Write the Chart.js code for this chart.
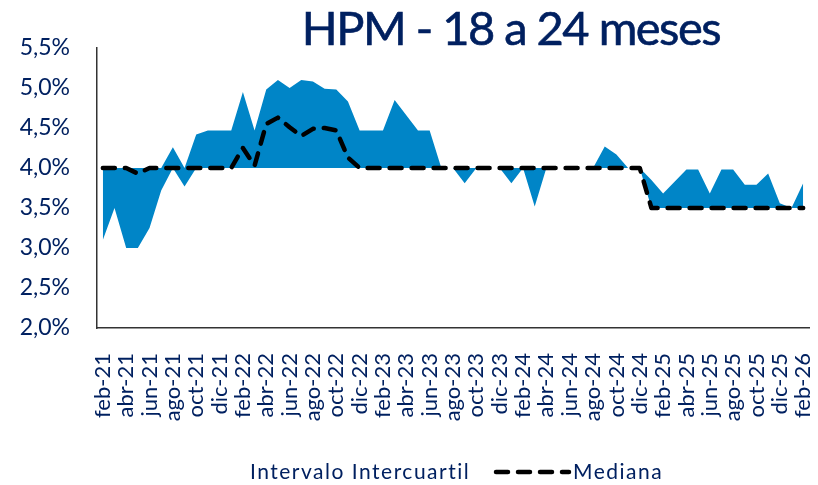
<!DOCTYPE html>
<html lang="es">
<head>
<meta charset="utf-8">
<title>HPM - 18 a 24 meses</title>
<script src="https://cdn.jsdelivr.net/npm/chart.js@4/dist/chart.umd.min.js"></script>
<style>
  html, body { margin: 0; padding: 0; background: #fff; }
  #wrap { position: relative; width: 818px; height: 485px; font-family: Lato, sans-serif; color: #002060; }
  #grafico { position: absolute; left: 0; top: 0; }
  #titulo { position: absolute; left: 211px; width: 600px; top: 4px; text-align: center;
            font-size: 47px; line-height: 47px; letter-spacing: -1.5px; white-space: nowrap;
            -webkit-text-stroke: 0.6px #002060; }
  .ley { position: absolute; top: 461px; font-size: 21px; line-height: 20px; letter-spacing: 1.5px; white-space: nowrap; }
  #leyLinea { position: absolute; left: 489px; top: 462px; }
</style>
</head>
<body>
<div id="wrap">
  <canvas id="grafico" width="818" height="485"></canvas>
  <div id="titulo">HPM - 18 a 24 meses</div>
  <div class="ley" style="left:250px">Intervalo Intercuartil</div>
  <svg id="leyLinea" width="84" height="20">
    <line x1="7" y1="10" x2="80" y2="10" stroke="#000" stroke-width="4.5" stroke-linecap="round" stroke-dasharray="12 10"></line>
  </svg>
  <div class="ley" style="left:573px">Mediana</div>
</div>
<script>
// meses de la encuesta
const meses = [
  'feb-21','mar-21','abr-21','may-21','jun-21','jul-21','ago-21','sep-21','oct-21','nov-21','dic-21',
  'ene-22','feb-22','mar-22','abr-22','may-22','jun-22','jul-22','ago-22','sep-22','oct-22','nov-22','dic-22',
  'ene-23','feb-23','mar-23','abr-23','may-23','jun-23','jul-23','ago-23','sep-23','oct-23','nov-23','dic-23',
  'ene-24','feb-24','mar-24','abr-24','may-24','jun-24','jul-24','ago-24','sep-24','oct-24','nov-24','dic-24',
  'ene-25','feb-25','mar-25','abr-25','may-25','jun-25','jul-25','ago-25','sep-25','oct-25','nov-25','dic-25',
  'ene-26','feb-26'
]

// percentil 25
const q1 = [
  3.10, 3.50, 3.00, 3.00, 3.25, 3.72, 4.00, 3.77, 4.00, 4.00, 4.00,
  4.00, 4.00, 4.00, 4.00, 4.00, 4.00, 4.00, 4.00, 4.00, 4.00, 4.00, 4.00,
  4.00, 4.00, 4.00, 4.00, 4.00, 4.00, 4.00, 4.00, 3.81, 4.00, 4.00, 4.00,
  3.81, 4.00, 3.52, 4.00, 4.00, 4.00, 4.00, 4.00, 4.00, 4.00, 4.00, 4.00,
  3.50, 3.50, 3.50, 3.50, 3.50, 3.50, 3.50, 3.50, 3.50, 3.50, 3.50, 3.50,
  3.50, 3.50
]

// percentil 75
const q3 = [
  4.00, 4.00, 4.00, 4.00, 4.00, 4.00, 4.26, 4.00, 4.42, 4.47, 4.47,
  4.47, 4.95, 4.47, 4.98, 5.10, 5.00, 5.10, 5.08, 4.99, 4.98, 4.83, 4.47,
  4.47, 4.47, 4.85, 4.66, 4.47, 4.47, 4.00, 4.00, 4.00, 4.00, 4.00, 4.00,
  4.00, 4.00, 4.00, 4.00, 4.00, 4.00, 4.00, 4.00, 4.27, 4.17, 4.00, 4.00,
  3.85, 3.68, 3.83, 3.98, 3.98, 3.68, 3.98, 3.98, 3.79, 3.79, 3.93, 3.56,
  3.50, 3.81
]

const mediana = [
  4.00, 4.00, 4.00, 3.93, 4.00, 4.00, 4.00, 4.00, 4.00, 4.00, 4.00,
  4.00, 4.25, 4.03, 4.55, 4.63, 4.51, 4.40, 4.49, 4.50, 4.47, 4.13, 4.00,
  4.00, 4.00, 4.00, 4.00, 4.00, 4.00, 4.00, 4.00, 4.00, 4.00, 4.00, 4.00,
  4.00, 4.00, 4.00, 4.00, 4.00, 4.00, 4.00, 4.00, 4.00, 4.00, 4.00, 4.00,
  3.50, 3.50, 3.50, 3.50, 3.50, 3.50, 3.50, 3.50, 3.50, 3.50, 3.50, 3.50,
  3.50, 3.50
]

const ticksY = [2.0, 2.5, 3.0, 3.5, 4.0, 4.5, 5.0, 5.5]

const azul = '#0085C7'
const navy = '#002060'

new Chart(document.getElementById('grafico'), {
  type: 'line',
  data: {
    labels: meses,
    datasets: [
      {
        label: 'Mediana',
        data: mediana,
        borderColor: '#000',
        borderWidth: 4.5,
        borderDash: [12, 10],
        borderCapStyle: 'round',
        borderJoinStyle: 'round',
        pointRadius: 0,
        fill: false,
        tension: 0
      },
      {
        label: 'Intervalo Intercuartil',
        data: q3,
        borderWidth: 0,
        pointRadius: 0,
        backgroundColor: azul,
        fill: '+1',
        tension: 0
      },
      {
        label: 'p25',
        data: q1,
        borderWidth: 0,
        pointRadius: 0,
        fill: false,
        tension: 0
      }
    ]
  },
  options: {
    responsive: false,
    animation: false,
    devicePixelRatio: 1,
    layout: { padding: { top: 48, right: 9, bottom: 0, left: 0 } },
    plugins: {
      legend: { display: false },
      tooltip: { enabled: false }
    },
    scales: {
      x: {
        offset: true,
        grid: { display: false },
        border: { display: true, color: '#333', width: 1.5 },
        ticks: {
          autoSkip: false,
          minRotation: 90,
          maxRotation: 90,
          padding: 17,
          color: navy,
          font: { family: 'Lato', size: 22 },
          callback: function(v, i) { return i % 2 === 0 ? this.getLabelForValue(v) : '' }
        },
        afterFit: (s) => { s.height = 157; s.paddingLeft = 0; s.paddingRight = 0 }
      },
      y: {
        min: 2,
        max: 5.5,
        grid: { display: false },
        border: { display: true, color: '#333', width: 1.5 },
        afterBuildTicks: (s) => { s.ticks = ticksY.map(v => ({ value: v })) },
        ticks: {
          padding: 19,
          color: navy,
          font: { family: 'Lato', size: 23 },
          callback: (v) => v.toFixed(1).replace('.', ',') + '%'
        },
        afterFit: (s) => { s.width = 97 }
      }
    }
  }
})
</script>
</body>
</html>
